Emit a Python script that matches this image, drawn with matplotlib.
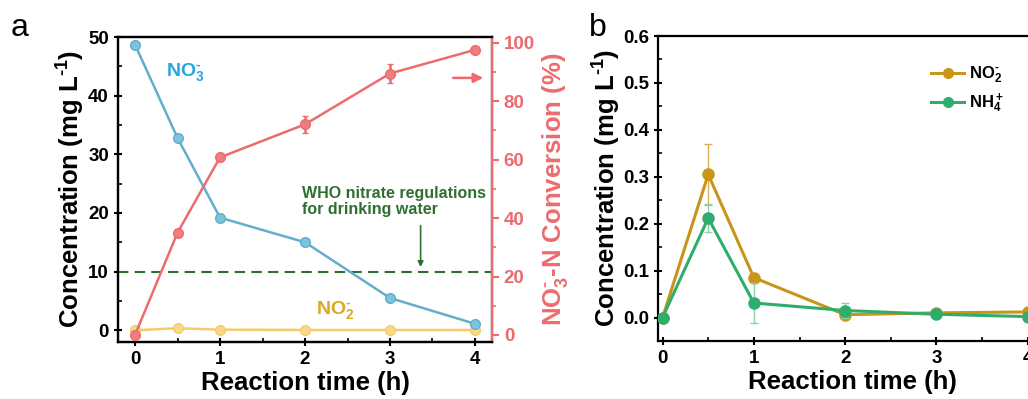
import numpy as np
import matplotlib
matplotlib.use('Agg')
import matplotlib.pyplot as plt
from matplotlib.ticker import MultipleLocator, FormatStrFormatter
from matplotlib.lines import Line2D

plt.rcParams['font.family'] = ['Liberation Sans', 'DejaVu Sans']
plt.rcParams['font.weight'] = 'bold'
plt.rcParams['axes.labelweight'] = 'bold'
plt.rcParams['axes.linewidth'] = 1.6

# ----- data: panel a -----
time_a = [0, 0.5, 1, 2, 3, 4]
no3 = [48.7, 32.8, 19.2, 15.0, 5.5, 1.1]
no3_err = [0.3, 0.3, 0.3, 0.3, 0.3, 0.3]
no2_a = [0.0, 0.35, 0.1, 0.05, 0.05, 0.05]
conv = [0.0, 35.0, 60.8, 72.1, 89.5, 97.6]
conv_err = [0.8, 0.8, 0.8, 3.0, 3.3, 0.6]
who_limit = 10

# ----- data: panel b -----
time_b = [0, 0.5, 1, 2, 3, 4]
no2_b = [0.0, 0.305, 0.085, 0.006, 0.010, 0.012]
no2_b_err = [0.002, 0.065, 0.008, 0.006, 0.006, 0.006]
nh4_b = [0.0, 0.212, 0.031, 0.015, 0.007, 0.002]
nh4_b_err = [0.002, 0.030, 0.043, 0.015, 0.005, 0.003]

c_blue = '#62AECB'
c_red = '#EC6B6E'
c_yellow = '#F5CB6A'
c_dgreen = '#2F6F30'
c_gold = '#C9941A'
c_green = '#2EAD6D'

HY = '\u2010'  # short hyphen for the ion charge
lab_no3 = r'NO$\mathregular{_3^{' + HY + '}}$'
lab_no2 = r'NO$\mathregular{_2^{' + HY + '}}$'
lab_nh4 = r'NH$\mathregular{_4^+}$'

fig = plt.figure(figsize=(10.28, 3.99), dpi=100)


def style_ticks(ax, xminor, yminor):
    ax.xaxis.set_minor_locator(MultipleLocator(xminor))
    ax.yaxis.set_minor_locator(MultipleLocator(yminor))
    ax.tick_params(which='major', direction='inout', length=6, width=1.5, labelsize=13.5)
    ax.tick_params(which='minor', direction='in', length=3, width=1.2)
    ax.tick_params(top=False, right=False, which='both')


# ========== panel a ==========
ax1 = fig.add_axes([118 / 1028, 1 - 342 / 399, 374 / 1028, 305 / 399])
ax1.errorbar(time_a, no3, yerr=no3_err, color=c_blue, lw=1.8, marker='o', ms=7,
             mfc='#7CC3DD', mec=c_blue, capsize=2, zorder=3)
ax1.plot(time_a, no2_a, color=c_yellow, lw=1.8, marker='o', ms=7,
         mfc='#F8D98A', mec=c_yellow, zorder=3)
ax1.axhline(who_limit, color=c_dgreen, lw=1.5, ls=(0, (5, 3)), zorder=2)
ax1.set_xlim(-0.2, 4.2)
ax1.set_ylim(-2, 50)
ax1.set_xticks([0, 1, 2, 3, 4])
ax1.set_yticks([0, 10, 20, 30, 40, 50])
style_ticks(ax1, 0.5, 5)
ax1.set_xlabel('Reaction time (h)', fontsize=18.5, labelpad=2)
ax1.set_ylabel(r'Concentration (mg L$\mathregular{^{' + HY + '1}}$)', fontsize=18.5, labelpad=1)

ax1.text(0.37, 44.1, lab_no3, color='#2AA5DC', fontsize=14, va='center')
ax1.text(2.13, 3.4, lab_no2, color='#D9A923', fontsize=14, va='center')
ax1.text(1.96, 22.0, 'WHO nitrate regulations\nfor drinking water', color=c_dgreen,
         fontsize=11.5, va='center', linespacing=1.05)
ax1.annotate('', xy=(3.36, 10.3), xytext=(3.36, 18.3),
             arrowprops=dict(arrowstyle='-|>', color=c_dgreen, lw=1.2, mutation_scale=8))

ax2 = ax1.twinx()
ax2.errorbar(time_a, conv, yerr=conv_err, color=c_red, lw=1.8, marker='o', ms=7,
             mfc='#F07E80', mec=c_red, capsize=2.5, zorder=4)
ax2.set_ylim(-2.4, 102)
ax2.set_yticks([0, 20, 40, 60, 80, 100])
ax2.yaxis.set_minor_locator(MultipleLocator(10))
ax2.tick_params(axis='y', which='major', direction='out', length=5, width=1.5,
                labelsize=13.5, colors=c_red)
ax2.tick_params(axis='y', which='minor', direction='out', length=3, width=1.2, colors=c_red)
ax2.spines['right'].set_color(c_red)
ax2.set_ylabel(r'NO$\mathregular{_3^{' + HY + '}}$-N Conversion (%)', fontsize=18.5,
               color=c_red, labelpad=4)
ax2.annotate('', xy=(4.13, 88), xytext=(3.71, 88),
             arrowprops=dict(arrowstyle='-|>', color=c_red, lw=1.8, mutation_scale=14))

fig.text(20 / 1028, 1 - 28 / 399, 'a', fontsize=23, fontweight='normal', ha='center', va='center')

# ========== panel b ==========
ax3 = fig.add_axes([658 / 1028, 1 - 341 / 399, 388 / 1028, 305 / 399])
ax3.errorbar(time_b, no2_b, yerr=no2_b_err, color=c_gold, lw=2.2, marker='o', ms=8,
             ecolor='#D8B25A', elinewidth=1.0, capsize=3, zorder=3)
ax3.errorbar(time_b, nh4_b, yerr=nh4_b_err, color=c_green, lw=2.2, marker='o', ms=8,
             ecolor='#8FCFAF', elinewidth=1.0, capsize=3, zorder=4)
ax3.set_xlim(-0.05, 4.2)
ax3.set_ylim(-0.05, 0.6)
ax3.set_xticks([0, 1, 2, 3, 4])
ax3.set_yticks([0.0, 0.1, 0.2, 0.3, 0.4, 0.5, 0.6])
ax3.yaxis.set_major_formatter(FormatStrFormatter('%.1f'))
style_ticks(ax3, 0.5, 0.05)
ax3.set_xlabel('Reaction time (h)', fontsize=18.5, labelpad=2)
ax3.set_ylabel(r'Concentration (mg L$\mathregular{^{' + HY + '1}}$)', fontsize=18.5, labelpad=0)
handles = [Line2D([], [], color=c_gold, lw=2.2, marker='o', ms=7),
           Line2D([], [], color=c_green, lw=2.2, marker='o', ms=7)]
ax3.legend(handles, [lab_no2, lab_nh4], loc='upper left', bbox_to_anchor=(0.665, 0.955),
           frameon=False, fontsize=12, handlelength=2.0, labelspacing=0.35,
           handletextpad=0.3)

fig.text(598 / 1028, 1 - 28 / 399, 'b', fontsize=23, fontweight='normal', ha='center', va='center')

fig.savefig('out.png', dpi=100)
